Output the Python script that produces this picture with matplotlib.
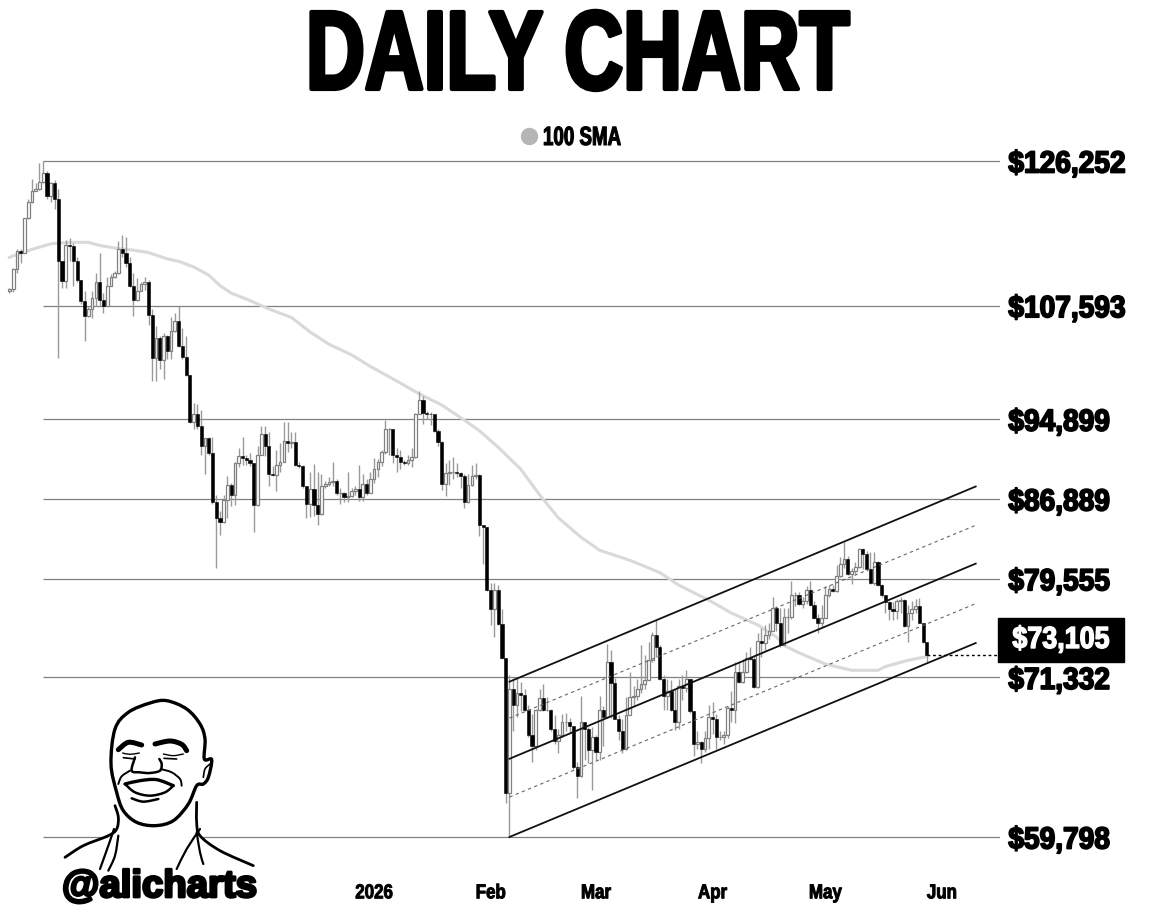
import numpy as np
import pandas as pd
import matplotlib
matplotlib.use("Agg")
import matplotlib.pyplot as plt
import matplotlib.patheffects as pe
from matplotlib.lines import Line2D
from matplotlib.patches import PathPatch, Polygon, Rectangle
from matplotlib.path import Path
from matplotlib.transforms import Affine2D

# Daily candles in thousands of dollars
first_open = 109.3
closes = [
    109.6,112.1,114.3,114.1,118.5,120.7,122.2,122.4,123.4,124.6,
    121.4,123.2,121.1,113.0,110.6,115.0,114.9,113.0,110.7,108.1,
    106.4,107.2,108.5,110.5,108.3,107.6,110.0,111.0,111.5,114.5,
    114.0,112.8,110.0,108.3,109.4,110.2,110.5,106.5,101.5,103.8,
    101.3,104.0,102.3,104.6,105.8,102.9,101.7,99.6,94.6,95.5,
    94.2,92.1,92.9,91.4,86.6,85.1,84.7,86.8,88.2,87.3,
    90.4,91.1,90.9,90.7,90.4,86.3,91.2,93.4,92.1,89.3,
    89.2,90.2,90.5,92.6,92.4,92.5,90.2,90.1,88.1,86.4,
    87.9,86.3,85.5,88.1,88.3,88.5,88.6,87.5,87.5,87.1,
    87.2,87.7,87.9,87.1,88.3,87.5,88.8,89.8,90.5,91.5,
    93.9,93.9,91.2,91.0,90.5,90.4,90.7,91.0,95.4,96.9,
    95.6,95.5,95.4,93.7,92.5,88.3,89.4,89.5,89.5,89.4,
    89.1,86.6,88.2,89.1,89.2,84.4,84.2,78.6,76.9,78.6,
    75.7,72.9,62.8,70.4,69.2,70.1,70.0,68.8,66.9,66.1,
    68.8,69.7,68.8,68.8,67.4,66.5,66.9,67.9,67.9,67.6,
    64.6,64.0,67.9,67.4,65.8,66.8,65.7,68.8,68.3,72.6,
    70.9,68.1,67.2,65.9,68.4,69.8,69.9,70.4,70.8,71.1,
    72.7,74.8,73.8,71.2,69.9,70.3,68.8,67.9,70.7,70.5,
    71.2,68.7,66.3,66.4,65.9,66.7,68.3,68.1,66.8,66.8,
    66.9,69.0,68.8,71.8,71.0,71.8,72.9,72.8,70.6,74.3,
    74.1,74.8,75.1,77.0,75.8,73.9,76.3,76.3,78.1,78.1,
    77.4,77.6,78.6,77.3,76.2,75.8,76.2,78.1,78.7,78.5,
    79.8,80.9,81.3,80.0,80.2,80.6,82.2,81.8,80.4,79.2,
    81.0,79.0,78.1,77.5,76.9,76.8,77.6,77.7,75.5,76.6,
    76.9,77.2,75.8,74.2,73.105,
]
highs = [
    109.7,112.2,114.5,114.5,118.6,121.0,123.8,123.2,126.0,126.252,
    124.9,123.4,123.6,122.4,113.0,115.7,115.9,115.3,113.6,110.7,
    109.3,107.5,109.3,111.5,114.0,109.1,111.1,111.4,111.8,115.6,
    116.3,116.1,113.6,111.5,110.9,110.5,111.1,110.7,107.2,105.2,
    104.0,104.4,104.2,106.3,106.7,107.5,105.0,104.0,99.6,96.6,
    96.5,95.9,93.0,93.1,93.1,87.3,85.7,87.3,89.1,88.4,
    90.5,91.9,93.1,91.2,91.4,90.4,92.1,94.2,94.2,93.6,
    90.1,91.7,92.4,94.6,94.6,93.6,93.6,90.5,90.2,88.1,
    89.5,90.3,89.5,89.3,88.6,89.0,90.5,88.8,88.0,87.6,
    89.5,88.0,88.1,90.2,89.3,88.8,89.5,90.9,90.8,91.7,
    94.8,94.0,93.9,91.9,91.7,90.7,91.2,91.9,95.6,97.9,
    97.4,95.8,95.7,95.2,93.9,92.6,90.4,90.7,91.0,90.4,
    89.5,89.3,89.3,90.2,90.4,89.3,84.4,84.2,79.2,79.2,
    79.0,76.9,72.7,71.5,71.3,71.3,71.0,70.4,69.2,68.5,
    68.9,70.4,70.8,69.8,68.9,68.4,67.4,68.5,68.6,68.2,
    67.6,65.0,69.9,67.9,67.5,67.5,66.9,69.9,69.1,74.0,
    73.5,71.3,68.4,68.1,69.8,71.8,70.7,71.2,73.9,73.1,
    74.2,75.0,76.0,73.9,71.5,71.2,71.1,70.4,71.2,71.5,
    71.9,71.2,68.7,67.2,66.5,67.2,69.2,69.4,68.5,67.2,
    67.2,69.1,70.3,72.6,72.6,72.8,73.4,73.8,73.1,74.9,
    75.3,75.6,75.8,78.0,77.2,77.0,77.0,77.0,79.4,78.4,
    78.4,78.0,78.9,79.4,77.6,76.5,77.3,78.9,79.0,79.0,
    80.8,81.5,82.9,81.6,80.5,81.0,82.3,82.3,82.0,81.9,
    81.9,81.1,79.1,78.1,77.6,77.5,77.8,78.0,77.8,77.3,
    77.6,77.8,77.9,75.8,74.2,
]
lows = [
    109.1,109.2,111.5,112.8,114.0,118.4,120.5,122.1,122.3,123.2,
    121.1,120.7,119.7,101.5,109.7,109.7,113.0,109.9,110.5,107.8,
    103.5,106.3,106.1,107.5,107.5,106.7,107.6,109.9,110.9,111.4,
    113.5,112.3,109.8,106.4,108.2,109.3,109.5,105.3,99.0,99.0,
    100.3,99.2,101.4,101.4,104.5,102.8,101.4,99.5,94.5,93.9,
    93.9,91.2,89.3,91.2,86.4,80.5,83.5,84.6,85.1,86.2,
    86.3,90.0,90.2,90.2,90.1,83.8,86.2,91.2,91.1,88.1,
    89.1,87.7,89.5,90.5,91.5,91.9,90.1,89.9,88.0,85.1,
    85.2,85.3,84.4,85.4,88.0,88.1,88.1,87.3,86.4,86.6,
    86.6,87.1,87.3,86.7,86.7,87.3,87.5,88.4,89.0,90.1,
    91.3,91.2,90.4,89.5,89.8,90.2,90.2,90.0,90.9,95.4,
    94.4,94.9,94.3,93.6,92.1,87.8,87.2,88.2,88.8,89.0,
    88.0,86.0,86.5,88.1,88.8,83.4,80.9,78.5,75.6,74.6,
    75.6,72.8,62.1,59.798,67.2,68.3,68.7,68.7,66.8,65.0,
    65.8,68.7,68.7,68.7,67.2,66.3,65.6,66.8,67.2,67.1,
    64.5,62.4,63.9,65.1,64.9,63.0,65.1,65.1,66.1,68.2,
    68.2,68.1,66.6,65.6,65.8,68.4,69.1,69.6,70.1,70.4,
    71.1,72.6,73.0,71.1,68.8,68.8,68.7,67.3,67.4,69.6,
    70.2,68.6,65.4,65.9,64.9,65.7,65.9,67.0,65.9,66.6,
    66.3,66.7,67.9,67.8,70.9,70.9,71.7,72.7,70.5,70.5,
    73.0,73.5,74.4,75.1,75.1,73.8,73.9,74.9,76.1,77.2,
    77.3,77.0,77.4,77.2,76.1,74.9,75.3,76.2,78.0,78.4,
    78.4,79.7,80.5,79.9,79.1,80.0,80.5,80.4,80.2,79.1,
    79.0,78.9,78.0,76.6,76.0,76.0,76.1,76.6,75.4,74.2,
    76.0,76.6,75.8,74.1,72.6,
]

# 100 SMA, read at a handful of days (days since the first candle)
sma_days = [0,3,6,11,13,17,21,24,29,33,37,42,45,49,53,56,59,64,69,75,80,85,91,96,103,
            109,115,121,125,130,136,141,146,152,157,165,173,178,186,192,199,204,206,
            210,217,224,231,233,239,244]
sma_values = [113.5,114.0,114.5,115.2,115.3,115.4,115.4,115.0,114.6,114.4,114.1,113.3,
              113.0,112.3,111.3,110.0,109.1,108.2,107.2,106.2,104.5,103.1,101.9,100.6,99.0,
              97.6,96.4,94.8,93.7,92.0,89.8,87.3,85.1,83.3,82.1,81.2,80.1,79.0,77.7,76.6,
              75.6,74.6,73.9,73.3,72.4,71.9,71.9,72.2,72.7,73.0]

levels = [126252, 107593, 94899, 86889, 79555, 71332, 59798]
last_price = 73105

# channel: start and end values of each line
channel_days = [133, 257]
channel_solid = [[71.0, 88.1], [65.2, 80.9], [59.8, 74.1]]
channel_dashed = [[68.2, 84.4], [62.5, 77.4]]

month_ticks = ["2026-01-01", "2026-02-01", "2026-03-01", "2026-04-01", "2026-05-01", "2026-06-01"]
month_labels = ["2026", "Feb", "Mar", "Apr", "May", "Jun"]

FONT = ["Liberation Sans", "DejaVu Sans"]
W, H = 1152, 920
PX_DAY = 3.76
X0 = 9.4


# squeezes text sideways and fattens it, nothing installed is as narrow and heavy as the original face
class Squeeze(pe.AbstractPathEffect):
    def __init__(self, sx, lw, center=False):
        super().__init__()
        self.sx, self.lw, self.center = sx, lw, center

    def draw_path(self, renderer, gc, tpath, affine, rgbFace):
        mid = tpath.get_extents().x0 + tpath.get_extents().width / 2 if self.center else 0
        squeeze = Affine2D().translate(-mid, 0).scale(self.sx, 1).translate(mid, 0)
        gc0 = renderer.new_gc()
        gc0.copy_properties(gc)
        gc0.set_linewidth(self.lw)
        gc0.set_foreground(rgbFace)
        renderer.draw_path(gc0, tpath, squeeze + affine, rgbFace)
        gc0.restore()


def price_at(y):
    return 126252 * np.exp(-(y - 161) / 904.6)


def curve(points, closed=False):
    pts = np.array(points, float)
    if closed:
        pts = np.vstack([pts[-1], pts, pts[0], pts[1]])
    else:
        pts = np.vstack([pts[0], pts, pts[-1]])
    verts = [pts[1]]
    codes = [Path.MOVETO]
    for k in range(1, len(pts) - 2):
        verts += [pts[k] + (pts[k + 1] - pts[k - 1]) / 6, pts[k + 1] - (pts[k + 2] - pts[k]) / 6, pts[k + 1]]
        codes += [Path.CURVE4] * 3
    return Path(verts, codes)


dates = pd.date_range("2025-09-26", periods=len(closes), freq="D")
c = np.array(closes) * 1000
h = np.array(highs) * 1000
l = np.array(lows) * 1000
o = np.concatenate(([first_open * 1000], c[:-1]))


def day(n):
    return pd.Timestamp("2025-09-26") + pd.Timedelta(days=float(n))


fig = plt.figure(figsize=(W / 100, H / 100), dpi=100, facecolor="white")
# one pixel lower than the nominal frame, lines snap upward otherwise
ax = fig.add_axes([0, (H - 876) / H, 1000 / W, 875 / H])
ax.set_yscale("log")
ax.set_xlim(day(-X0 / PX_DAY), day((1000 - X0) / PX_DAY))
ax.set_ylim(price_at(875), price_at(0))
for s in ax.spines.values():
    s.set_visible(False)

# horizontal levels
ax.hlines(levels, day((43 - X0) / PX_DAY), day((1000 - X0) / PX_DAY), color="#808080", lw=0.9, zorder=1)

# sma
ax.plot([day(d) for d in sma_days], np.array(sma_values) * 1000, color="#d9d9d9", lw=2.2, zorder=2)

# candles
up = c >= o
ax.vlines(dates, l, h, color="#9a9a9a", lw=1.0, zorder=3)
ax.bar(dates[up], (c - o)[up], bottom=o[up], width=0.72, color="white", edgecolor="#808080", lw=0.9, zorder=4)
ax.bar(dates[~up], (o - c)[~up], bottom=c[~up], width=0.82, color="black", edgecolor="black", lw=0.4, zorder=4)

# channel
chan_x = [day(d) for d in channel_days]
for line in channel_solid:
    ax.plot(chan_x, np.array(line) * 1000, color="#111111", lw=1.3, zorder=5)
for line in channel_dashed:
    ax.plot(chan_x, np.array(line) * 1000, color="#666666", lw=0.8, ls=(0, (3, 3)), zorder=5)

# last price marker
ax.hlines(last_price, dates[-1], day((1000 - X0) / PX_DAY), color="black", lw=1, ls=(0, (2, 2)), zorder=5)
fig.add_artist(Rectangle((998 / W, 1 - 663 / H), 126 / W, 44 / H, transform=fig.transFigure, color="black", zorder=3))
fig.text(1061 / W, 1 - 641 / H, "$73,105", color="white", family=FONT, weight="bold", fontsize=22,
         ha="center", va="center", zorder=4, path_effects=[Squeeze(0.88, 1.0, center=True)])

# axes labels
ax.yaxis.tick_right()
ax.set_yticks(levels, [f"${v:,}" for v in levels])
ax.minorticks_off()
ax.tick_params(axis="y", length=0, pad=6)
for t in ax.get_yticklabels():
    t.set_family(FONT)
    t.set_weight("bold")
    t.set_fontsize(22)
    t.set_path_effects([Squeeze(0.92, 1.3)])
ax.set_xticks(pd.to_datetime(month_ticks), month_labels)
ax.tick_params(axis="x", length=0, pad=6)
for t in ax.get_xticklabels():
    t.set_family(FONT)
    t.set_weight("bold")
    t.set_fontsize(14.5)
    t.set_path_effects([Squeeze(0.84, 0.7, center=True)])

# title and legend
fig.text(306 / W, 1 - 90 / H, "DAILY CHART", color="black", family=FONT, weight="bold", fontsize=80.6,
         ha="left", va="baseline", path_effects=[Squeeze(0.728, 3.0)])
fig.add_artist(Line2D([529 / W], [1 - 137 / H], transform=fig.transFigure, ls="", marker="o", ms=12.5,
                      color="#b5b5b5", markeredgewidth=0))
fig.text(543 / W, 1 - 146 / H, "100 SMA", color="black", family=FONT, weight="bold", fontsize=19,
         ha="left", va="baseline", path_effects=[Squeeze(0.71, 0.8)])

# portrait, drawn in the pixels of a 3x crop starting at (40, 690)
face = Affine2D().scale(1 / 3, -1 / 3).translate(40, H - 690)
head = [(213, 225), (225, 120), (265, 70), (330, 42), (380, 35), (440, 60), (480, 105), (495, 150), (493, 210),
        (515, 212), (505, 265), (490, 285), (470, 290), (445, 345), (400, 395), (345, 410), (290, 400),
        (250, 365), (230, 310)]
strokes = [
    ([(225, 350), (235, 385), (230, 420), (205, 440), (130, 470), (75, 505)], 2.0),
    ([(470, 340), (470, 400), (480, 440), (540, 485), (640, 530)], 2.0),
    ([(222, 420), (205, 470), (180, 540)], 1.6),
    ([(235, 440), (225, 500), (205, 545)], 1.6),
    ([(480, 420), (440, 480), (410, 540)], 1.6),
    ([(470, 430), (480, 490), (490, 525)], 1.6),
    ([(235, 182), (265, 160), (305, 168)], 3.6),
    ([(345, 165), (390, 156), (425, 166), (440, 185)], 3.6),
    ([(248, 192), (270, 196), (298, 192)], 1.0),
    ([(250, 206), (285, 210)], 1.2),
    ([(370, 195), (400, 200), (430, 195)], 1.0),
    ([(372, 208), (410, 210)], 1.2),
    ([(285, 205), (275, 245), (300, 250), (330, 252), (360, 245), (365, 225), (358, 210)], 1.8),
    ([(235, 285), (245, 262), (270, 245)], 1.4),
    ([(362, 240), (395, 250), (420, 270), (425, 290)], 1.4),
    ([(255, 285), (300, 275), (350, 272), (400, 290)], 2.4),
    ([(255, 285), (285, 310), (330, 320), (375, 310), (400, 290)], 1.8),
    ([(275, 328), (310, 338), (355, 330)], 1.8),
    ([(490, 265), (495, 240), (510, 225)], 1.2),
]
ax.add_patch(Polygon([(205, 435), (230, 420), (470, 420), (490, 445), (490, 560), (205, 560)], closed=True,
                     transform=face, facecolor="white", edgecolor="none", clip_on=False, zorder=9))
ax.add_patch(PathPatch(curve(head, closed=True), transform=face, facecolor="white", edgecolor="black", lw=2.4,
                       clip_on=False, zorder=10))
for pts, width in strokes:
    ax.add_patch(PathPatch(curve(pts), transform=face, facecolor="none", edgecolor="black", lw=width,
                           capstyle="round", clip_on=False, zorder=11))
fig.text(62 / W, 1 - 898 / H, "@alicharts", color="black", family=FONT, weight="bold", fontsize=27.6,
         ha="left", va="baseline", zorder=5, path_effects=[Squeeze(1.0, 2.0)])

fig.savefig("out.png", dpi=100)
